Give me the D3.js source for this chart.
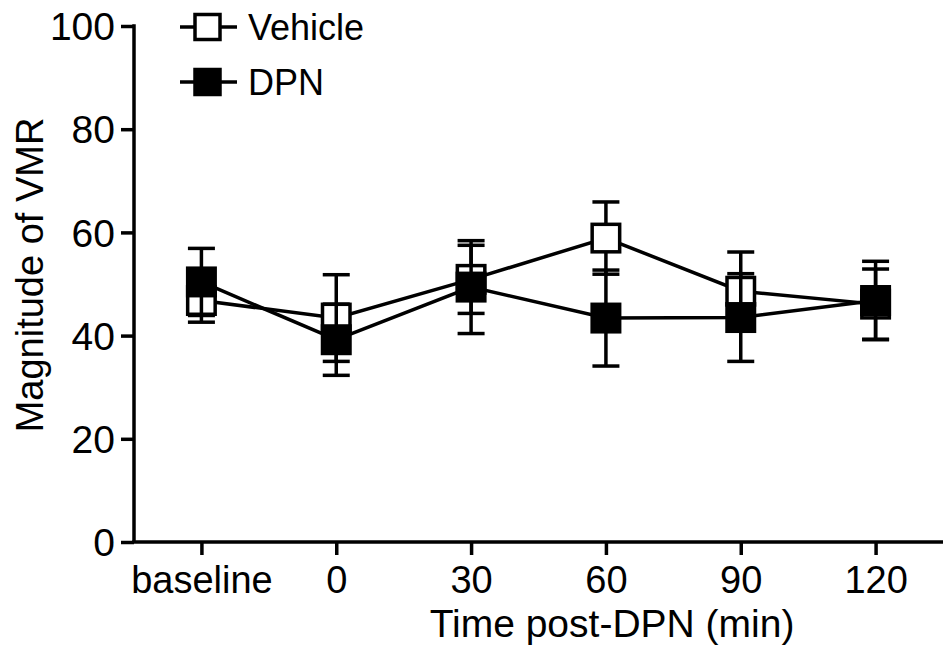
<!DOCTYPE html>
<html>
<head>
<meta charset="utf-8">
<script src="https://cdn.jsdelivr.net/npm/d3@7"></script>
<style>
  html, body { margin: 0; padding: 0; background: #fff; }
  svg { display: block; }
  text { font-family: "Liberation Sans", Arial, sans-serif; fill: #000; }
</style>
</head>
<body>
<svg id="chart" width="946" height="648"></svg>
<script>
const categories = ["baseline", "0", "30", "60", "90", "120"];
const vehicleMean = [46.8, 43.4, 50.9, 58.9, 48.6, 46.1];
const vehicleSEM  = [4.2, 8.4, 6.6, 7.0, 7.6, 6.8];
const dpnMean     = [50.4, 39.2, 49.4, 43.4, 43.5, 46.8];
const dpnSEM      = [6.5, 6.9, 9.0, 9.3, 8.5, 7.6];
const yTicks = [0, 20, 40, 60, 80, 100];
const seriesNames = ["Vehicle", "DPN"];

const svg = d3.select("#chart");
const mLeft = 134, mRight = 943, mTop = 26, mBottom = 542;

const x = d3.scalePoint().domain(categories).range([mLeft, mRight]).padding(0.5);
const y = d3.scaleLinear().domain([0, 100]).range([mBottom, mTop]);

const SW = 3.5;

// axes
const yAxis = svg.append("g").attr("transform", `translate(${mLeft},0)`)
  .call(d3.axisLeft(y).tickValues(yTicks).tickSize(13).tickPadding(6).tickSizeOuter(0));
const xAxis = svg.append("g").attr("transform", `translate(0,${mBottom})`)
  .call(d3.axisBottom(x).tickSize(13).tickPadding(8).tickSizeOuter(0));
[yAxis, xAxis].forEach(g => {
  g.select(".domain").attr("stroke", "#000").attr("stroke-width", SW);
  g.selectAll(".tick line").attr("stroke", "#000").attr("stroke-width", SW);
});
yAxis.selectAll(".tick text").attr("font-size", 39).attr("dy", "0.35em");
xAxis.selectAll(".tick text").attr("font-size", 38).attr("dy", "0.8em");
xAxis.select(".domain").attr("d", `M${mLeft - SW/2},0H${mRight}`);
yAxis.select(".domain").attr("d", `M0,${mTop - SW/2}V${mBottom}`);

// axis titles
svg.append("text").attr("x", 612).attr("y", 637).attr("text-anchor", "middle")
  .attr("font-size", 39).text("Time post-DPN (min)");
svg.append("text").attr("transform", `translate(43,275) rotate(-90)`)
  .attr("text-anchor", "middle").attr("font-size", 38).text("Magnitude of VMR");

const MS = 31; // marker size
const CAP = 27;

function drawSeries(means, sems, fill) {
  const data = categories.map((c, i) => ({c, m: means[i], s: sems[i]}));
  const g = svg.append("g");
  g.append("path").datum(data)
    .attr("fill", "none").attr("stroke", "#000").attr("stroke-width", SW)
    .attr("d", d3.line().x(d => x(d.c)).y(d => y(d.m)));
  const eb = g.selectAll(".eb").data(data).join("g");
  eb.append("line").attr("x1", d => x(d.c)).attr("x2", d => x(d.c))
    .attr("y1", d => y(d.m - d.s)).attr("y2", d => y(d.m + d.s))
    .attr("stroke", "#000").attr("stroke-width", SW);
  [1, -1].forEach(sg => {
    eb.append("line").attr("x1", d => x(d.c) - CAP/2).attr("x2", d => x(d.c) + CAP/2)
      .attr("y1", d => y(d.m + sg * d.s)).attr("y2", d => y(d.m + sg * d.s))
      .attr("stroke", "#000").attr("stroke-width", SW);
  });
  g.selectAll(".mk").data(data).join("rect")
    .attr("x", d => x(d.c) - (MS - SW)/2).attr("y", d => y(d.m) - (MS - SW)/2)
    .attr("width", MS - SW).attr("height", MS - SW)
    .attr("fill", fill).attr("stroke", "#000").attr("stroke-width", SW);
}
drawSeries(vehicleMean, vehicleSEM, "#fff");
drawSeries(dpnMean, dpnSEM, "#000");

// legend
const legend = svg.append("g");
const fills = ["#fff", "#000"];
seriesNames.forEach((name, i) => {
  const cy = 27 + i * 55;
  legend.append("line").attr("x1", 180).attr("x2", 237).attr("y1", cy).attr("y2", cy)
    .attr("stroke", "#000").attr("stroke-width", SW);
  legend.append("rect").attr("x", 207.5 - 12.5).attr("y", cy - 12.5)
    .attr("width", 25).attr("height", 25)
    .attr("fill", fills[i]).attr("stroke", "#000").attr("stroke-width", SW);
  legend.append("text").attr("x", 248).attr("y", cy).attr("dy", "0.36em")
    .attr("font-size", 36).text(name);
});
</script>
</body>
</html>
